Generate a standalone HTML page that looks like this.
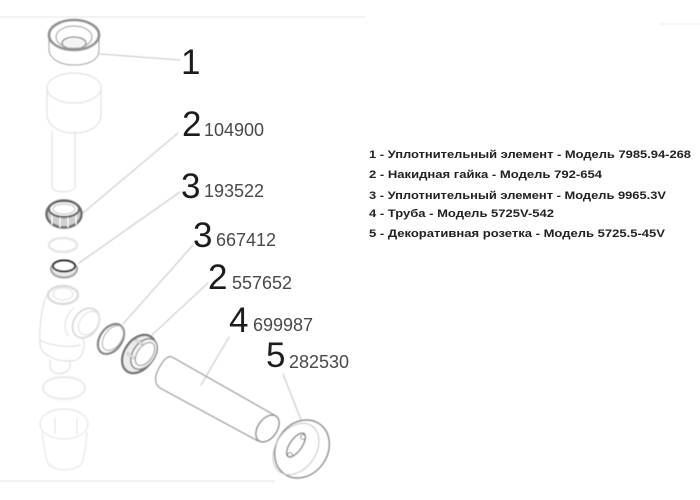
<!DOCTYPE html>
<html><head><meta charset="utf-8">
<style>
html,body{margin:0;padding:0;background:#fff;width:700px;height:500px;overflow:hidden}
svg{display:block}
text{font-family:"Liberation Sans",sans-serif}
.n{font-size:35px;fill:#1c1c1c}
.c{font-size:18px;fill:#4a4a4a}
.t{font-size:11px;font-weight:bold;fill:#222}
</style></head><body>
<svg width="700" height="500" viewBox="0 0 700 500" xmlns="http://www.w3.org/2000/svg">
<defs><filter id="b" x="-10%" y="-10%" width="120%" height="120%"><feGaussianBlur stdDeviation="0.45"/></filter>
<filter id="b2" x="-10%" y="-10%" width="120%" height="120%"><feGaussianBlur stdDeviation="0.3"/></filter></defs>
<rect width="700" height="500" fill="#fff"/>
<line x1="0" y1="17" x2="365" y2="17" stroke="#f3f3f3" stroke-width="2"/>
<line x1="660" y1="24" x2="700" y2="24" stroke="#f7f7f7" stroke-width="2"/>
<line x1="0" y1="481" x2="275" y2="481" stroke="#f2f2f2" stroke-width="2"/>

<g filter="url(#b)" fill="none" stroke-linecap="round">
<!-- leaders -->
<g stroke="#c8c8c8" stroke-width="1.1">
<line x1="100" y1="54" x2="180" y2="60"/>
<line x1="83" y1="213" x2="178" y2="133"/>
<line x1="79" y1="263" x2="180" y2="192"/>
<line x1="123" y1="324" x2="193" y2="245"/>
<line x1="152" y1="335" x2="208" y2="283"/>
<line x1="201" y1="385" x2="229" y2="337"/>
<line x1="283" y1="374" x2="303" y2="425"/>
</g>

<!-- part 1 cap -->
<path d="M49 36 V50 C50 60 62 65 74 65 C88 65 99 60 99 50 V36" stroke="#a5a5a5" stroke-width="1.1" fill="#fff"/>
<ellipse cx="74" cy="35" rx="25" ry="15" stroke="#8f8f8f" stroke-width="2.6" fill="#fff"/>
<ellipse cx="74" cy="37" rx="18" ry="11" stroke="#a8a8a8" stroke-width="1.2"/>
<ellipse cx="74" cy="43" rx="12" ry="6" stroke="#8a8a8a" stroke-width="1.3" fill="#f4f4f4"/>
<path d="M54 44 C60 50 88 50 94 44" stroke="#9a9a9a" stroke-width="1.5"/>

<!-- pale cylinder -->
<g stroke="#e2e2e2" stroke-width="1.2">
<ellipse cx="74" cy="88" rx="27" ry="15"/>
<path d="M47 88 V116 C49 127 60 133 74 133 C90 133 100 126 101 116 V88"/>
<path d="M52 131 V188 C56 193 70 193 75 188 V132"/>
</g>

<!-- part 2 nut -->
<ellipse cx="64" cy="214" rx="17.5" ry="13.5" stroke="#6e6e6e" stroke-width="2.6" fill="#cfcfcf"/>
<ellipse cx="64" cy="209" rx="15" ry="8" stroke="#666" stroke-width="2.2" fill="#fff"/>
<ellipse cx="64" cy="209" rx="11" ry="5" stroke="#bbb" stroke-width="1"/>
<path d="M52 216 V224 M60 218 V227 M68 218 V227 M76 216 V224" stroke="#fff" stroke-width="1.4"/>

<!-- pale ring -->
<ellipse cx="63" cy="245" rx="14" ry="7" stroke="#e6e6e6" stroke-width="2.6"/>

<!-- part 3 ring -->
<ellipse cx="64" cy="269" rx="13" ry="8.5" stroke="#a2a2a2" stroke-width="2" fill="#e9e9e9"/>
<ellipse cx="64" cy="266" rx="11" ry="5.5" stroke="#1f1f1f" stroke-width="1.9" fill="#fff"/>

<!-- pale body -->
<g stroke="#e0e0e0" stroke-width="1.2">
<path d="M47 295 C42 305 39 325 40 345 C42 357 60 362 72 361 C84 360 86 345 82 335"/>
<path d="M40 340 C50 346 70 348 80 345"/>
<path d="M50 360 V367 C52 376 66 376 70 367 V360" />
</g>
<ellipse cx="63" cy="295" rx="15" ry="9" stroke="#d8d8d8" stroke-width="2.2" fill="#fff"/>
<ellipse cx="63" cy="294" rx="10" ry="6" stroke="#dedede" stroke-width="1"/>
<ellipse cx="86" cy="323" rx="12" ry="16" transform="rotate(35 86 323)" stroke="#d6d6d6" stroke-width="1.6" fill="#fff"/>
<ellipse cx="89" cy="323" rx="9" ry="13" transform="rotate(35 89 323)" stroke="#dcdcdc" stroke-width="1"/>
<path d="M74 308 C66 314 62 326 68 336" stroke="#e2e2e2" stroke-width="1.1"/>

<!-- lower pale ring and cup -->
<ellipse cx="64" cy="388" rx="21" ry="11" stroke="#ececec" stroke-width="2.4"/>
<g stroke="#e6e6e6" stroke-width="1.2">
<ellipse cx="64" cy="424" rx="24" ry="15"/>
<path d="M42 432 C44 448 46 460 48 463 C54 472 76 472 82 463 C84 458 86 445 87 432"/>
<path d="M55 418 V434 M77 418 V434"/>
</g>

<!-- part 3b ring -->
<ellipse cx="111" cy="339" rx="11" ry="16.5" transform="rotate(35 111 339)" stroke="#848484" stroke-width="2.2" fill="#fff"/>
<ellipse cx="113" cy="338" rx="8.5" ry="14" transform="rotate(35 113 338)" stroke="#a5a5a5" stroke-width="1"/>

<!-- part 2b nut -->
<ellipse cx="139" cy="354" rx="14.5" ry="21" transform="rotate(35 139 354)" stroke="#6f6f6f" stroke-width="2.2" fill="#ececec"/>
<ellipse cx="144" cy="354" rx="11" ry="17" transform="rotate(35 144 354)" stroke="#848484" stroke-width="1.4" fill="#f5f5f5"/>
<ellipse cx="145" cy="354" rx="7.5" ry="13" transform="rotate(35 145 354)" stroke="#8a8a8a" stroke-width="1" fill="#fff"/>
<path d="M128 354 L134 358 M136 340 L142 344" stroke="#9a9a9a" stroke-width="2.4"/>
<path d="M128 354 L134 358 M136 340 L142 344" stroke="#fff" stroke-width="1.1"/>

<!-- part 4 tube -->
<path d="M172 357 L276 416 M258 441 L160 388 C154 384 155 376 158 370 C162 362 167 355 172 357" stroke="#9c9c9c" stroke-width="1.2"/>
<ellipse cx="267.5" cy="428.5" rx="9.5" ry="15" transform="rotate(35 267.5 428.5)" stroke="#8c8c8c" stroke-width="1.4" fill="#fff"/>

<!-- part 5 rosette -->
<ellipse cx="302" cy="449" rx="25.5" ry="30.5" transform="rotate(35 302 449)" stroke="#8f8f8f" stroke-width="1.5" fill="#fff"/>
<ellipse cx="296" cy="449" rx="20" ry="28" transform="rotate(35 296 449)" stroke="#c4c4c4" stroke-width="1"/>
<ellipse cx="296" cy="445" rx="6" ry="14" transform="rotate(35 296 445)" stroke="#777" stroke-width="1.3"/>
<circle cx="303" cy="437" r="2.4" stroke="#888" stroke-width="1"/>
<circle cx="290" cy="455" r="2.4" stroke="#888" stroke-width="1"/>
</g>

<g filter="url(#b2)">
<text class="n" x="181" y="74">1</text>
<text class="n" x="182" y="136">2</text><text class="c" x="204" y="136">104900</text>
<text class="n" x="181" y="198">3</text><text class="c" x="204" y="197">193522</text>
<text class="n" x="193" y="247">3</text><text class="c" x="216" y="246">667412</text>
<text class="n" x="208" y="289">2</text><text class="c" x="232" y="289">557652</text>
<text class="n" x="229" y="332">4</text><text class="c" x="253" y="331">699987</text>
<text class="n" x="266" y="367">5</text><text class="c" x="289" y="368">282530</text>

<text class="t" x="369" y="158" textLength="322" lengthAdjust="spacingAndGlyphs">1 - Уплотнительный элемент - Модель 7985.94-268</text>
<text class="t" x="369" y="178" textLength="233" lengthAdjust="spacingAndGlyphs">2 - Накидная гайка - Модель 792-654</text>
<text class="t" x="369" y="199" textLength="297" lengthAdjust="spacingAndGlyphs">3 - Уплотнительный элемент - Модель 9965.3V</text>
<text class="t" x="369" y="217" textLength="185" lengthAdjust="spacingAndGlyphs">4 - Труба - Модель 5725V-542</text>
<text class="t" x="369" y="237" textLength="296" lengthAdjust="spacingAndGlyphs">5 - Декоративная розетка - Модель 5725.5-45V</text>
</g>
</svg>
</body></html>
